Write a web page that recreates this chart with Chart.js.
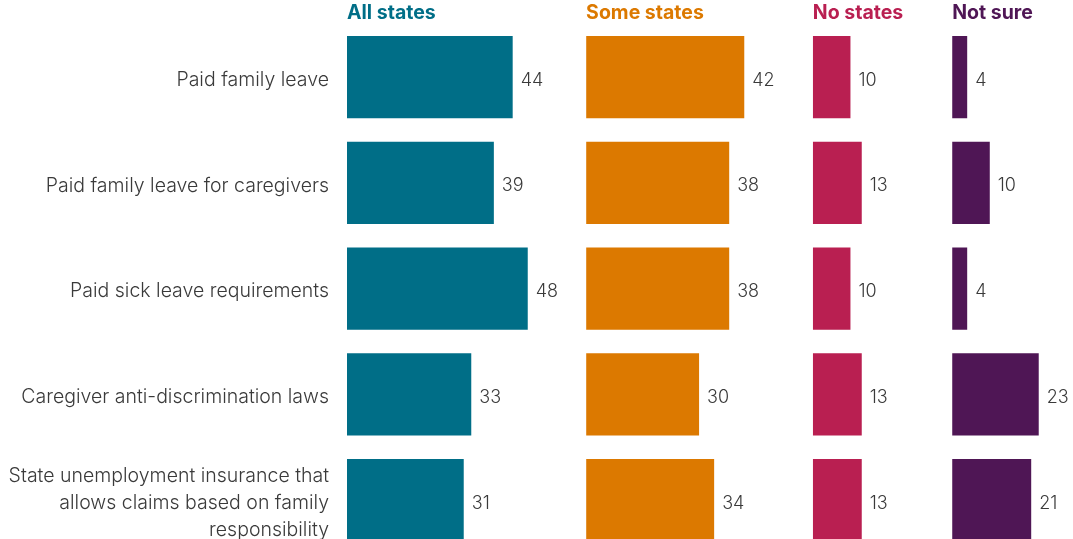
<!DOCTYPE html>
<html>
<head>
<meta charset="utf-8">
<script src="https://cdn.jsdelivr.net/npm/chart.js@4/dist/chart.umd.min.js"></script>
<style>
  html, body { margin: 0; padding: 0; background: #ffffff; overflow: hidden; }
  #wrap { position: relative; width: 1073px; height: 553px; }
</style>
</head>
<body>
<div id="wrap"><canvas id="chart"></canvas></div>
<script>
// Survey answers (% of respondents) for each policy
const categories = [
  'Paid family leave',
  'Paid family leave for caregivers',
  'Paid sick leave requirements',
  'Caregiver anti-discrimination laws',
  ['State unemployment insurance that', 'allows claims based on family', 'responsibility']
];
const allStates  = [44, 39, 48, 33, 31];
const someStates = [42, 38, 38, 30, 34];
const noStates   = [10, 13, 10, 13, 13];
const notSure    = [4, 10, 4, 23, 21];

const seriesNames  = ['All states', 'Some states', 'No states', 'Not sure'];
const seriesValues = [allStates, someStates, noStates, notSure];
const seriesColors = ['#006e87', '#dc7900', '#b91f51', '#4f1655'];
// Each panel's axis range; the panels share one px-per-point scale
const panelMax     = [63.5, 60.2, 37, 32.1];

const FONT = "'Inter', 'Roboto', 'Noto Sans', sans-serif";
const TEXT = '#3a3a3a';

const datasets = seriesValues.map((vals, i) => ({
  label: seriesNames[i],
  data: vals,
  xAxisID: 'x' + (i + 1),
  yAxisID: 'y',
  backgroundColor: seriesColors[i],
  borderWidth: 0,
  grouped: false,
  categoryPercentage: 1,
  barPercentage: 0.777
}));

const scales = {
  y: {
    type: 'category',
    position: 'left',
    grid: { display: false, drawTicks: false },
    border: { display: false },
    ticks: {
      color: TEXT,
      padding: 18,
      labelOffset: 3,
      font: { family: FONT, size: 19.5, weight: '300', lineHeight: 1.385 }
    },
    afterFit: (scale) => {
      scale.width = 347;
      scale.paddingTop = 0;
      scale.paddingBottom = 0;
    }
  }
};
seriesNames.forEach((name, i) => {
  scales['x' + (i + 1)] = {
    type: 'linear',
    position: 'top',
    stack: 'panels',
    stackWeight: panelMax[i],
    weight: seriesNames.length - i,
    min: 0,
    max: panelMax[i],
    grid: { display: false, drawTicks: false },
    border: { display: false },
    ticks: { display: false },
    title: {
      display: true,
      text: name,
      align: 'start',
      color: seriesColors[i],
      padding: { top: 1.8, bottom: 0 },
      font: { family: FONT, size: 19.5, weight: 'bold', lineHeight: 1.15 }
    }
  };
});

// Writes each bar's value just past its end
const valueLabels = {
  id: 'valueLabels',
  afterDatasetsDraw(chart) {
    const ctx = chart.ctx;
    ctx.save();
    ctx.font = `300 18px ${FONT}`;
    ctx.fillStyle = TEXT;
    ctx.textAlign = 'left';
    ctx.textBaseline = 'middle';
    chart.data.datasets.forEach((ds, i) => {
      chart.getDatasetMeta(i).data.forEach((bar, j) => {
        ctx.fillText(String(ds.data[j]), bar.x + 8, bar.y + 3);
      });
    });
    ctx.restore();
  }
};

new Chart(document.getElementById('chart'), {
  type: 'bar',
  data: { labels: categories, datasets },
  options: {
    indexAxis: 'y',
    responsive: true,
    maintainAspectRatio: false,
    animation: false,
    layout: { padding: 0 },
    plugins: { legend: { display: false }, tooltip: { enabled: false } },
    scales
  },
  plugins: [valueLabels]
});
</script>
</body>
</html>
